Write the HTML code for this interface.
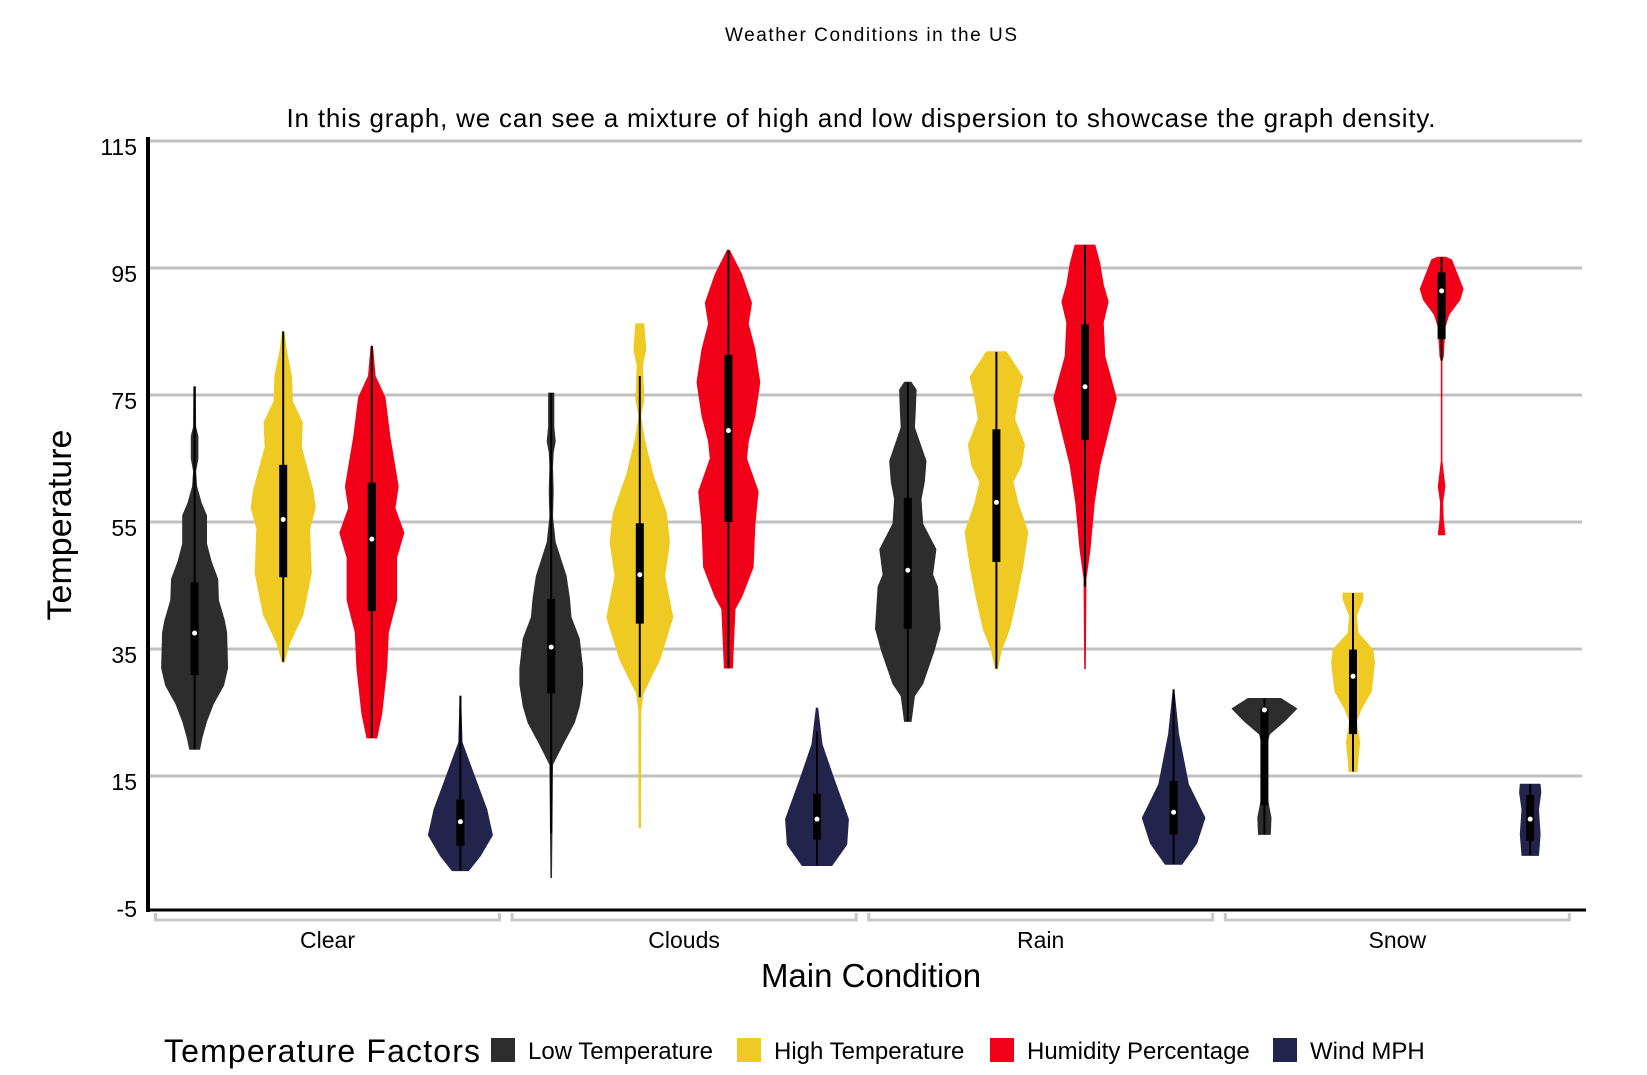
<!DOCTYPE html>
<html><head><meta charset="utf-8"><style>
html,body{margin:0;padding:0;background:#fff;}
svg{display:block;font-family:"Liberation Sans",sans-serif;}
</style></head><body>
<svg id="chart" width="1647" height="1075" viewBox="0 0 1647 1075">
<text x="871" y="41" font-size="19" text-anchor="middle" textLength="292">Weather Conditions in the US</text>
<text x="861" y="127" font-size="26" text-anchor="middle" textLength="1149">In this graph, we can see a mixture of high and low dispersion to showcase the graph density.</text>
<g id="grid"></g>
<g id="yticks"></g>
<g id="violins"></g>
<line x1="148" y1="137" x2="148" y2="912" stroke="#000" stroke-width="4"/>
<line x1="146" y1="910" x2="1586" y2="910" stroke="#000" stroke-width="3"/>
<g id="xcats"></g>
<text x="71" y="525" font-size="34" text-anchor="middle" transform="rotate(-90 71 525)">Temperature</text>
<text x="871" y="987" font-size="33" text-anchor="middle">Main Condition</text>
<g id="legend">
<text x="164" y="1062" font-size="32" textLength="316">Temperature Factors</text>
</g>
</svg>
<script>
const categories = ["Clear","Clouds","Rain","Snow"];
const factors = ["Low Temperature","High Temperature","Humidity Percentage","Wind MPH"];
const colors = ["#2d2d2d","#eeca22","#f20018","#23244b"];
const yTicks = [115,95,75,55,35,15,-5];
// box stats per violin: [whiskerMin, q1, median, q3, whiskerMax], order: category-major, factor-minor
const boxStats = [
 [19.2,30.9,37.5,45.5,76.3],[33,46.3,55.4,64,85],[21,41,52.3,61.2,82.7],[0.1,4,7.8,11.3,27.6],
 [6,28,35.3,42.9,75.3],[27.4,39,46.7,54.8,78],[32,55,69.4,81.3,97.8],[0.9,5,8.2,12.2,22],
 [23.6,38.2,47.4,58.8,77],[31.9,48.7,58.1,69.6,81.8],[44.8,67.9,76.3,86.1,98.6],[1.1,5.8,9.3,14.2,28.6],
 [5.8,10.4,25.4,25.6,27.2],[15.7,21.6,30.7,34.9,43.8],[80.4,83.8,91.4,94.3,96.7],[2.5,4.8,8.2,12,13.7]
];
// density profiles: [value, relative density 0-100]
const densityClearLow = [[76.3,2],[70,3],[68.5,10],[65,10],[63,3],[60.6,6],[58,20],[56,36],[51.6,36],[48.8,50],[46,70],[42.7,72],[39.5,90],[37.6,97],[32,100],[29.3,88],[26.4,57],[23.6,36],[21,22],[19.2,15]];
const densityClearHigh = [[85,2],[81.9,10],[78,25],[74,28],[70.7,58],[66.8,55],[60,90],[57.2,97],[53.9,80],[47,85],[40.4,60],[36,20],[32.9,2]];
const densityClearHum = [[82.7,2],[78,10],[74.6,40],[68.4,55],[60.6,80],[57.2,70],[53.3,97],[49.4,75],[42.7,75],[37.6,50],[32,45],[24.8,30],[21,15]];
const densityClearWind = [[27.6,1],[20.3,5],[15.3,40],[9.7,80],[5.7,97],[2.4,60],[0.1,25]];
const densityCloudsLow = [[75.3,8],[70,8],[67.7,12],[66,6],[63.7,4],[59.8,6],[55.8,4],[51.8,12],[46.5,45],[43,55],[40,60],[36.6,85],[32,95],[29.4,95],[26,85],[23.4,70],[20,35],[16.8,4],[6,2],[-1,1]];
const densityCloudsHigh = [[86.2,12],[82.2,18],[79.6,8],[74.3,12],[71.7,2],[67.7,15],[62.4,40],[56.5,80],[51.8,90],[46.5,75],[40,100],[33.3,60],[28,10],[25.4,3],[6.9,2]];
const densityCloudsHum = [[97.8,3],[94,40],[89.5,70],[86.2,60],[82.2,80],[77,95],[71.7,80],[67.7,60],[65,55],[59.8,90],[54.5,80],[47.9,75],[43.2,40],[41.3,20],[32,12]];
const densityCloudsWind = [[25.7,2],[20,15],[14.7,50],[8.2,95],[4.2,90],[0.9,45]];
const densityRainLow = [[77,10],[75.8,25],[71.9,22],[69.9,20],[64.6,55],[61.3,50],[58.6,40],[54.7,45],[50.7,85],[46.7,75],[44.8,90],[38.2,98],[34.8,80],[29.5,45],[27.6,20],[23.6,10]];
const densityRainHigh = [[81.8,30],[77.8,80],[74.5,65],[71.2,55],[67.2,85],[63.9,75],[61.3,50],[58,65],[53.4,95],[48.1,80],[42.8,60],[38.2,40],[34.8,15],[31.9,3]];
const densityRainHum = [[98.6,30],[95.7,45],[92.4,55],[89.7,70],[86.4,55],[81.1,60],[74.5,95],[69.2,70],[63.9,45],[58,28],[50.7,15],[46.1,3],[31.9,1]];
const densityRainWind = [[28.6,1],[21.6,15],[13.7,45],[8.4,95],[4.4,70],[1.1,25]];
const densitySnowLow = [[27.2,50],[25.6,98],[23.6,60],[21.6,15],[19.6,5],[15,5],[11.7,8],[8.4,20],[5.8,18]];
const densitySnowHigh = [[43.8,30],[42.8,30],[40.2,10],[37.5,15],[34.9,60],[32.9,65],[28.3,55],[25.6,25],[23.6,10],[20.3,20],[17.7,15],[15.7,12]];
const densitySnowHum = [[96.7,12],[96.3,30],[91.7,65],[90,55],[87.7,22],[85.7,10],[81.1,5],[80.4,1],[64.6,1],[60.6,10],[58,3],[55.3,5],[53,10]];
const densitySnowWind = [[13.7,30],[12.4,32],[9.7,25],[5.8,30],[2.5,25]];
const densities = [densityClearLow,densityClearHigh,densityClearHum,densityClearWind,
 densityCloudsLow,densityCloudsHigh,densityCloudsHum,densityCloudsWind,
 densityRainLow,densityRainHigh,densityRainHum,densityRainWind,
 densitySnowLow,densitySnowHigh,densitySnowHum,densitySnowWind];

const NS = "http://www.w3.org/2000/svg";
const yScale = v => 141 + (115 - v) * 6.35;
const groupX = i => 327.5 + 356.6 * i;
const dodgeX = (i, j) => groupX(i) + (j - 1.5) * 88.6;
const wScale = d => d * 0.33;
function mk(tag, attrs, parent){const e=document.createElementNS(NS,tag);for(const k in attrs)e.setAttribute(k,attrs[k]);parent.appendChild(e);return e;}

const grid = document.getElementById('grid');
const yt = document.getElementById('yticks');
yTicks.forEach(t => {
  if (t > -5) {
    const l = mk('line',{x1:150,x2:1582,y1:yScale(t),y2:yScale(t),stroke:'#c0c0c0','stroke-width':3},grid);
    
    
  }
  const tx = mk('text',{x:137,y:yScale(t)+14,'font-size':23,'text-anchor':'end'},yt);
  tx.textContent = t;
  
  
});

const xc = document.getElementById('xcats');
categories.forEach((c,i) => {
  const cx = groupX(i);
  const b = mk('path',{d:`M${cx-172},913 V920 H${cx+172} V913`,fill:'none',stroke:'#c8c8c8','stroke-width':3},xc);
  
  
  const t = mk('text',{x:cx,y:948,'font-size':23,'text-anchor':'middle'},xc);
  t.textContent = c;
  
  
});

const vg = document.getElementById('violins');
categories.forEach((c,i) => {
  factors.forEach((f,j) => {
    const k = i*4+j;
    const cx = dodgeX(i,j);
    const prof = densities[k];
    const right = prof.map(p => `${(cx+wScale(p[1])).toFixed(1)},${yScale(p[0]).toFixed(1)}`);
    const left = prof.slice().reverse().map(p => `${(cx-wScale(p[1])).toFixed(1)},${yScale(p[0]).toFixed(1)}`);
    const g = mk('g',{},vg);
    
    
    const path = mk('path',{d:'M'+right.join(' L')+' L'+left.join(' L')+'Z',fill:colors[j],stroke:colors[j],'stroke-width':1,'stroke-linejoin':'round'},g);
    
    
    const s = boxStats[k];
    const w = mk('line',{x1:cx,x2:cx,y1:yScale(s[0]),y2:yScale(s[4]),stroke:'#000','stroke-width':2},g);
    
    
    const r = mk('rect',{x:cx-4,width:8,y:yScale(s[3]),height:Math.max(1,yScale(s[1])-yScale(s[3])),fill:'#000'},g);
    
    
    const m = mk('circle',{cx:cx,cy:yScale(s[2]),r:2.5,fill:'#fff'},g);
    
    
  });
});

const lg = document.getElementById('legend');
const keyX = [491,737,990,1273];
factors.forEach((f,j) => {
  const r = mk('rect',{x:keyX[j],y:1038,width:24,height:24,fill:colors[j]},lg);
  
  
  const t = mk('text',{x:keyX[j]+37,y:1059,'font-size':24},lg);
  t.textContent = f;
  
  
});
</script>
</body></html>
